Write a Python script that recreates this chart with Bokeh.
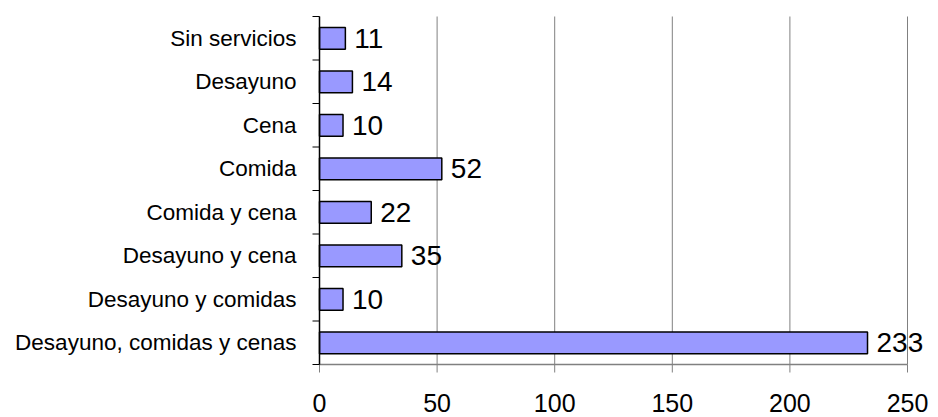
import math
from bokeh.plotting import figure
from bokeh.models import ColumnDataSource, Range1d
from bokeh.core.properties import value
from bokeh.embed import file_html
from bokeh.resources import INLINE

categories = ["Sin servicios", "Desayuno", "Cena", "Comida", "Comida y cena",
              "Desayuno y cena", "Desayuno y comidas", "Desayuno, comidas y cenas"]
values = [11, 14, 10, 52, 22, 35, 10, 233]
x_ticks = [0, 50, 100, 150, 200, 250]

FONT = "Liberation Sans"
GRID = "#808080"
n = len(categories)
pos = [n - i for i in range(n)]  # first category at the top
source = ColumnDataSource(dict(cat=categories, val=values, pos=pos,
                               label=[str(v) for v in values]))

# The frame covers the whole figure; the plot area spans x 319..907, y 16..364 px
W, H = 938, 417
px_per_x = (907 - 319) / (x_ticks[-1] - x_ticks[0])
px_per_y = (364 - 16) / n
x_start = x_ticks[0] - 319 / px_per_x
x_end = x_ticks[-1] + (W - 907) / px_per_x
y_start = 0.5 - (H - 364) / px_per_y
y_end = n + 0.5 + 16 / px_per_y

p = figure(width=W, height=H, output_backend="svg", toolbar_location=None,
           x_range=Range1d(x_start, x_end), y_range=Range1d(y_start, y_end),
           x_axis_location=None, y_axis_location=None,
           min_border=0)
p.outline_line_color = None
p.background_fill_color = "white"
p.xgrid.grid_line_color = None
p.ygrid.grid_line_color = None

y_bottom = [0.5] * len(x_ticks)
y_top = [n + 0.5] * len(x_ticks)

# vertical gridlines
p.segment(x0=x_ticks, y0=y_bottom, x1=x_ticks, y1=y_top, line_color=GRID, line_width=1)

# bars
p.hbar(y="pos", right="val", left=0, height=0.5, source=source,
       fill_color="#9999FF", line_color="black", line_width=1.5)

# value labels
p.text(x="val", y="pos", text="label", source=source, x_offset=9,
       text_baseline="middle", text_align="left",
       text_font=value(FONT), text_font_size="28px", text_color="black")

# x axis line, ticks and labels
p.line(x=[x_ticks[0], x_ticks[-1]], y=[0.5, 0.5], line_color=GRID, line_width=1.5)
p.ray(x=x_ticks, y=y_bottom, length=8, length_units="screen",
      angle=-math.pi / 2, line_color=GRID, line_width=1)
p.text(x=x_ticks, y=y_bottom, text=[str(t) for t in x_ticks], y_offset=38,
       text_align="center", text_baseline="middle",
       text_font=value(FONT), text_font_size="25px", text_color="black")

# y axis line, boundary ticks and category labels
bounds = [k + 0.5 for k in range(n + 1)]
p.segment(x0=[0], y0=[0.5], x1=[0], y1=[n + 0.5], line_color="black", line_width=1.5)
p.ray(x=[0] * len(bounds), y=bounds, length=7, length_units="screen",
      angle=math.pi, line_color="black", line_width=1)
p.text(x=[0] * n, y=pos, text=categories, x_offset=-23,
       text_align="right", text_baseline="middle",
       text_font=value(FONT), text_font_size="22.5px", text_color="black")

open("out.html", "w").write(file_html(p, INLINE))
